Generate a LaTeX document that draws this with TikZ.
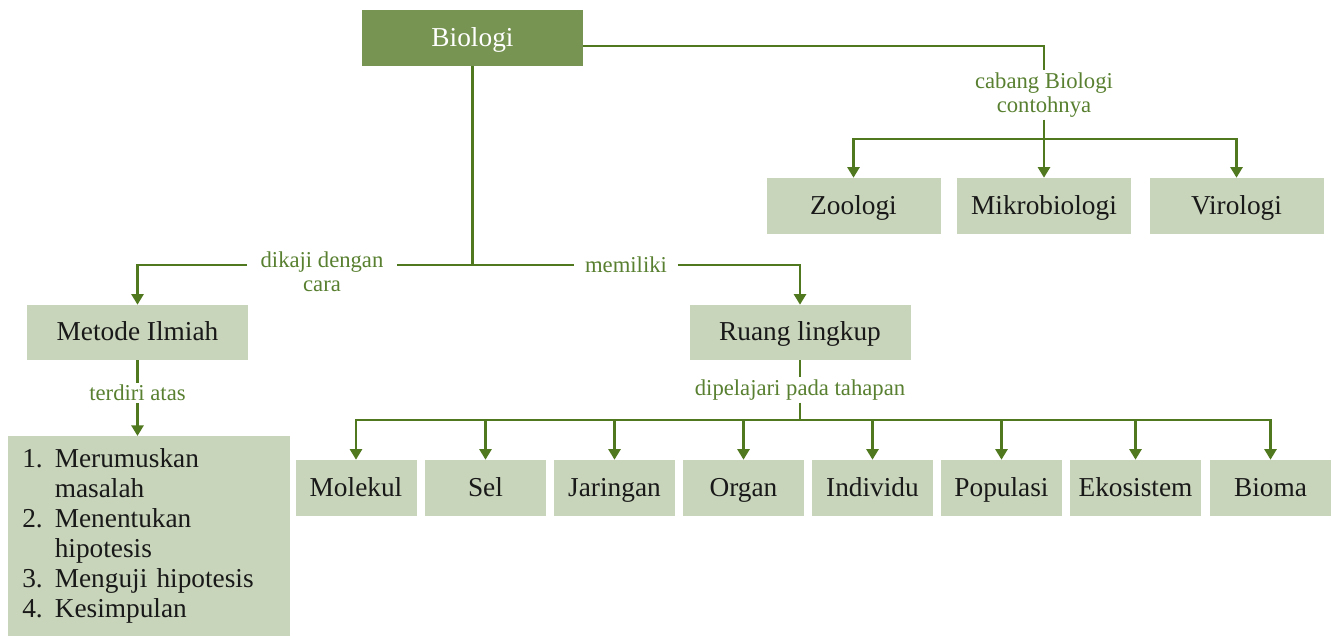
\documentclass[tikz,border=0pt]{standalone}
\usepackage{fontspec}
\setmainfont{Liberation Serif}
\usepackage{xcolor}
\usetikzlibrary{arrows.meta}

\definecolor{headgreen}{RGB}{119,148,82}
\definecolor{boxgreen}{RGB}{200,213,186}
\definecolor{linegreen}{RGB}{80,120,30}
\definecolor{labelgreen}{RGB}{88,128,48}

\tikzset{
  headbox/.style={fill=headgreen, text=white, inner sep=0pt, minimum width=165.75pt, minimum height=42pt, text height=16pt, text depth=4pt, font=\fontsize{20.5}{22.5}\selectfont},
  topicbox/.style={fill=boxgreen, text=black!90, inner sep=0pt, minimum height=42pt, text height=16pt, text depth=4pt, font=\fontsize{20.5}{22.5}\selectfont},
  linklabel/.style={text=labelgreen, inner xsep=8pt, inner ysep=1.5pt, align=center, font=\fontsize{17}{18}\selectfont},
  link/.style={draw=linegreen, line width=2.1pt},
  linkarrow/.style={link, -{Triangle[width=9pt,length=8pt]}}
}

\begin{document}
\begin{tikzpicture}[x=0.75pt,y=0.75pt,yscale=-1,xscale=1]
\useasboundingbox (0,0) rectangle (1332,636);

% Boxes
\node (biologi) [headbox] at (472.5,38) {Biologi};
\node (zoologi) [topicbox, minimum width=130.5pt] at (853.5,206) {Zoologi};
\node (mikro) [topicbox, minimum width=130.5pt] at (1044,206) {Mikrobiologi};
\node (virologi) [topicbox, minimum width=130.5pt] at (1236.5,206) {Virologi};
\node (metode) [topicbox, minimum width=165.75pt, minimum height=41.25pt] at (137.5,332.5) {Metode Ilmiah};
\node (ruang) [topicbox, minimum width=165.75pt, minimum height=41.25pt] at (800,332.5) {Ruang lingkup};
\node (langkah) [topicbox, anchor=north west, inner xsep=10.5pt, text width=190.5pt, text height=, text depth=, minimum height=150pt, align=left] at (8,436) {%
  \begin{tabular}{@{}l@{\hspace{9pt}}l@{}}
  1. & Merumuskan\\
     & masalah\\
  2. & Menentukan\\
     & hipotesis\\
  3. & Menguji hipotesis\\
  4. & Kesimpulan
  \end{tabular}};
\node (molekul) [topicbox, minimum width=90.75pt] at (356,488) {Molekul};
\node (sel) [topicbox, minimum width=90.75pt] at (485.5,488) {Sel};
\node (jaringan) [topicbox, minimum width=90.75pt] at (614.5,488) {Jaringan};
\node (organ) [topicbox, minimum width=90.75pt] at (743.5,488) {Organ};
\node (individu) [topicbox, minimum width=90.75pt] at (872.5,488) {Individu};
\node (populasi) [topicbox, minimum width=90.75pt] at (1001.5,488) {Populasi};
\node (ekosistem) [topicbox, minimum width=98.25pt] at (1135.5,488) {Ekosistem};
\node (bioma) [topicbox, minimum width=90.75pt] at (1270.5,488) {Bioma};

% Labels
\node (cabang) [linklabel] at (1044,95) {cabang Biologi\\contohnya};
\node (dikaji) [linklabel, inner xsep=10pt] at (322,272) {dikaji dengan\\cara};
\node (memiliki) [linklabel] at (626,265) {memiliki};
\node (terdiri) [linklabel] at (137.5,393) {terdiri atas};
\node (dipelajari) [linklabel] at (800,390) {dipelajari pada tahapan};

% Junctions
\coordinate (jbawah) at (biologi.south |- 0,265);
\coordinate (jcabang) at (cabang.south |- 0,139);
\coordinate (jtahap) at (dipelajari.south |- 0,420);

% Branches of biology
\draw [link] (biologi.east |- 0,46) -| (cabang.north);
\draw [linkarrow] (cabang.south) -- (mikro.north);
\draw [linkarrow] (jcabang) -| (zoologi.north);
\draw [linkarrow] (jcabang) -| (virologi.north);

% Method and scope
\draw [link] (biologi.south) -- (jbawah);
\draw [link] (jbawah) -- (dikaji.east |- jbawah);
\draw [linkarrow] (dikaji.west |- jbawah) -| (metode.north);
\draw [link] (jbawah) -- (memiliki.west);
\draw [linkarrow] (memiliki.east) -| (ruang.north);

% Steps
\draw [link] (metode.south) -- (terdiri.north);
\draw [linkarrow] (terdiri.south) -- (terdiri.south |- langkah.north);

% Levels
\draw [link] (ruang.south) -- (dipelajari.north);
\draw [link] (dipelajari.south) -- (jtahap);
\foreach \tahap in {molekul,sel,jaringan,organ,individu,populasi,ekosistem,bioma}
  \draw [linkarrow] (jtahap) -| (\tahap.north);

\end{tikzpicture}
\end{document}
